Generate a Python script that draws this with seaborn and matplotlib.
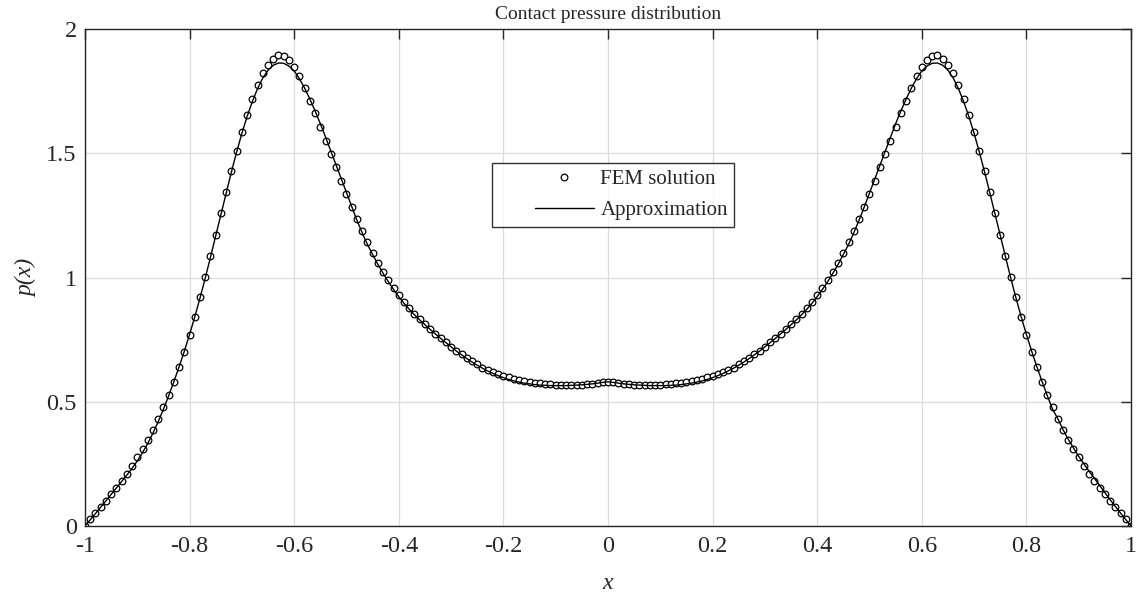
"""
Contact pressure distribution: FEM solution (markers) vs. approximation (line).
Saves out.png (1136x600).
"""
import numpy as np
import pandas as pd
import matplotlib
matplotlib.use('Agg')
import matplotlib.pyplot as plt
from matplotlib import ticker
from matplotlib.legend_handler import HandlerLine2D
import seaborn as sns

# x positions of the FEM nodes / approximation samples
x_vals = np.round(np.arange(-100, 101) / 100, 2)

# FEM solution (x = -1.00 ... 1.00, step 0.01)
fem_p = [
    0.000, 0.027, 0.054, 0.078, 0.100, 0.128, 0.154, 0.181, 0.209, 0.241,
    0.276, 0.310, 0.346, 0.386, 0.429, 0.477, 0.527, 0.580, 0.640, 0.701,
    0.770, 0.842, 0.920, 1.002, 1.086, 1.172, 1.258, 1.343, 1.428, 1.508,
    1.585, 1.655, 1.718, 1.774, 1.821, 1.857, 1.881, 1.896, 1.893, 1.876,
    1.846, 1.809, 1.763, 1.712, 1.660, 1.605, 1.551, 1.496, 1.443, 1.388,
    1.335, 1.283, 1.234, 1.187, 1.141, 1.099, 1.059, 1.023, 0.990, 0.959,
    0.929, 0.902, 0.878, 0.854, 0.833, 0.813, 0.792, 0.774, 0.756, 0.739,
    0.722, 0.705, 0.692, 0.678, 0.664, 0.650, 0.637, 0.628, 0.618, 0.611,
    0.603, 0.598, 0.593, 0.587, 0.583, 0.579, 0.576, 0.574, 0.571, 0.570,
    0.568, 0.567, 0.567, 0.567, 0.567, 0.568, 0.570, 0.572, 0.574, 0.578,
    0.581,
    0.578, 0.574, 0.572, 0.570, 0.568, 0.567, 0.567, 0.567, 0.567, 0.568,
    0.570, 0.571, 0.574, 0.576, 0.579, 0.583, 0.587, 0.593, 0.598, 0.603,
    0.611, 0.618, 0.628, 0.637, 0.650, 0.664, 0.678, 0.692, 0.705, 0.722,
    0.739, 0.756, 0.774, 0.792, 0.813, 0.833, 0.854, 0.878, 0.902, 0.929,
    0.959, 0.990, 1.023, 1.059, 1.099, 1.141, 1.187, 1.234, 1.283, 1.335,
    1.388, 1.443, 1.496, 1.551, 1.605, 1.660, 1.712, 1.763, 1.809, 1.846,
    1.876, 1.893, 1.896, 1.881, 1.857, 1.821, 1.774, 1.718, 1.655, 1.585,
    1.508, 1.428, 1.343, 1.258, 1.172, 1.086, 1.002, 0.920, 0.842, 0.770,
    0.701, 0.640, 0.580, 0.527, 0.477, 0.429, 0.386, 0.346, 0.310, 0.276,
    0.241, 0.209, 0.181, 0.154, 0.128, 0.100, 0.078, 0.054, 0.027, 0.000,
]

# Approximation curve at the same x positions
approx_p = [
    0.000, 0.025, 0.050, 0.076, 0.101, 0.127, 0.153, 0.179, 0.205, 0.232,
    0.262, 0.295, 0.332, 0.374, 0.420, 0.470, 0.524, 0.581, 0.641, 0.704,
    0.771, 0.842, 0.918, 0.998, 1.082, 1.168, 1.255, 1.341, 1.425, 1.505,
    1.580, 1.648, 1.708, 1.760, 1.803, 1.834, 1.854, 1.863, 1.862, 1.851,
    1.831, 1.800, 1.762, 1.718, 1.670, 1.619, 1.565, 1.509, 1.453, 1.397,
    1.340, 1.284, 1.230, 1.180, 1.133, 1.093, 1.053, 1.017, 0.983, 0.952,
    0.923, 0.896, 0.872, 0.850, 0.829, 0.810, 0.791, 0.773, 0.755, 0.738,
    0.721, 0.704, 0.689, 0.674, 0.660, 0.647, 0.635, 0.624, 0.614, 0.605,
    0.597, 0.590, 0.584, 0.579, 0.575, 0.572, 0.569, 0.567, 0.566, 0.565,
    0.565, 0.565, 0.565, 0.566, 0.567, 0.568, 0.570, 0.572, 0.575, 0.578,
    0.580,
    0.578, 0.575, 0.572, 0.570, 0.568, 0.567, 0.566, 0.565, 0.565, 0.565,
    0.565, 0.566, 0.567, 0.569, 0.572, 0.575, 0.579, 0.584, 0.590, 0.597,
    0.605, 0.614, 0.624, 0.635, 0.647, 0.660, 0.674, 0.689, 0.704, 0.721,
    0.738, 0.755, 0.773, 0.791, 0.810, 0.829, 0.850, 0.872, 0.896, 0.923,
    0.952, 0.983, 1.017, 1.053, 1.093, 1.133, 1.180, 1.230, 1.284, 1.340,
    1.397, 1.453, 1.509, 1.565, 1.619, 1.670, 1.718, 1.762, 1.800, 1.831,
    1.851, 1.862, 1.863, 1.854, 1.834, 1.803, 1.760, 1.708, 1.648, 1.580,
    1.505, 1.425, 1.341, 1.255, 1.168, 1.082, 0.998, 0.918, 0.842, 0.771,
    0.704, 0.641, 0.581, 0.524, 0.470, 0.432, 0.388, 0.349, 0.314, 0.280,
    0.250, 0.220, 0.192, 0.163, 0.135, 0.106, 0.079, 0.052, 0.026, 0.000,
]

x_ticks = [-1, -0.8, -0.6, -0.4, -0.2, 0, 0.2, 0.4, 0.6, 0.8, 1]
y_ticks = [0, 0.5, 1, 1.5, 2]


class ShortHandle(HandlerLine2D):
    """Legend handle drawn only in the right part of the handle box (MATLAB look)."""

    def __init__(self, frac=0.6, **kw):
        super().__init__(**kw)
        self.frac = frac

    def create_artists(self, legend, orig_handle, xdescent, ydescent,
                       width, height, fontsize, trans):
        artists = super().create_artists(legend, orig_handle, xdescent, ydescent,
                                         width, height, fontsize, trans)
        for a in artists:
            xd = np.asarray(a.get_xdata(), dtype=float)
            x1 = xd.max()
            a.set_xdata(x1 - (x1 - xd) * self.frac)
        return artists


def main():
    sns.set_style('white')
    plt.rcParams['font.family'] = ['Liberation Serif', 'DejaVu Serif']
    plt.rcParams['axes.unicode_minus'] = False

    df = pd.DataFrame({'x': x_vals, 'fem': fem_p, 'approx': approx_p})

    fig = plt.figure(figsize=(11.36, 6.0), dpi=100)
    ax = fig.add_axes([0.0748, 0.1233, 0.9208, 0.8284])

    sns.lineplot(data=df, x='x', y='fem', ax=ax, color='k', ls='none',
                 marker='o', ms=4.8, mfc='white', mec='k', mew=0.9,
                 label='FEM solution')
    sns.lineplot(data=df, x='x', y='approx', ax=ax, color='k', lw=1.0,
                 label='Approximation')

    ax.set_xlim(-1, 1)
    ax.set_ylim(0, 2)
    ax.set_xticks(x_ticks)
    ax.set_yticks(y_ticks)
    fmt = ticker.FuncFormatter(lambda v, pos: '%g' % v)
    ax.xaxis.set_major_formatter(fmt)
    ax.yaxis.set_major_formatter(fmt)

    # MATLAB-like box, inward ticks and light grid
    ax.grid(True, color='#dcdcdc', lw=0.9)
    ax.set_axisbelow(True)
    for sp in ax.spines.values():
        sp.set_visible(True)
        sp.set_color('#262626')
        sp.set_linewidth(1.0)
    ax.tick_params(direction='in', length=7, width=1.0, color='#262626',
                   top=True, right=True, labelsize=17.5)
    ax.tick_params(axis='x', pad=7)
    ax.tick_params(axis='y', pad=6)

    ax.set_xlabel('x', fontsize=17, style='italic', labelpad=12)
    ax.set_ylabel('p(x)', fontsize=17, style='italic', labelpad=6)
    ax.set_title('Contact pressure distribution', fontsize=14, pad=7)

    handles, labels = ax.get_legend_handles_labels()
    leg = ax.legend(handles, labels, loc='center', bbox_to_anchor=(0.5048, 0.666),
                    fontsize=15, frameon=True, fancybox=False, shadow=False,
                    borderpad=0.3, handlelength=4.6, handletextpad=0.3,
                    labelspacing=0.55, borderaxespad=0,
                    handler_map={h: ShortHandle(frac=0.62) for h in handles})
    leg.get_frame().set_edgecolor('k')
    leg.get_frame().set_linewidth(1.0)

    fig.savefig('out.png', dpi=100)


if __name__ == '__main__':
    main()
